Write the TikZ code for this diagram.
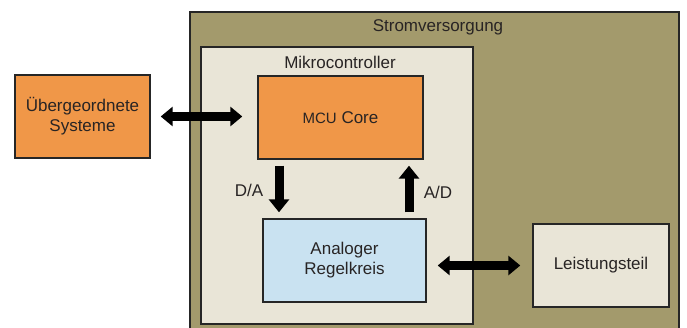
\documentclass[tikz,border=0pt]{standalone}
\usepackage{fontspec}
\setmainfont{Liberation Sans}
\usetikzlibrary{arrows.meta}
\definecolor{olive}{RGB}{163,154,108}
\definecolor{beige}{RGB}{233,229,215}
\definecolor{orng}{RGB}{240,151,72}
\definecolor{lblue}{RGB}{201,226,241}
\definecolor{txt}{RGB}{40,36,36}
\tikzset{
  box/.style={draw=black!85, line width=1.4pt, inner sep=0pt, align=center, text=txt,
    font=\fontsize{17}{20}\selectfont},
  lbl/.style={inner sep=0pt, text=txt, font=\fontsize{17}{20}\selectfont},
  big/.style={line width=9pt, black},
  dbl/.style={big, {Triangle[width=19pt,length=12pt]}-{Triangle[width=19pt,length=12pt]}},
  sgl/.style={big, -{Triangle[width=20pt,length=13pt]}}
}
\begin{document}
\begin{tikzpicture}[x=1pt,y=-1pt]
\useasboundingbox (0,0) rectangle (687,327);
\clip (0,0) rectangle (687,327);
\fill[white] (0,0) rectangle (687,327);
% outer power supply box
\node[box, fill=olive, line width=2.6pt, minimum width=489pt, minimum height=330pt] (strom) at (434.5,177) {};
\node[lbl] (stromlbl) at (438,27) {Stromversorgung};
% microcontroller box
\node[box, fill=beige, minimum width=272pt, minimum height=277pt] (mikro) at (337,185.5) {};
\node[lbl] (mikrolbl) at (340,62) {Mikrocontroller};
% blocks
\node[box, fill=orng, minimum width=135pt, minimum height=83pt] (ub) at (82.5,116.5) {Übergeordnete\\Systeme};
\node[box, fill=orng, minimum width=165pt, minimum height=83pt] (mcu) at (340.5,117.5) {{\fontsize{15}{20}\selectfont MCU} Core};
\node[box, fill=lblue, minimum width=163pt, minimum height=83pt] (ana) at (344.5,260.5) {Analoger\\Regelkreis};
\node[box, fill=beige, minimum width=136pt, minimum height=83pt] (lt) at (601,265.5) {Leistungsteil};
% connectors
\draw[dbl, shorten <=10pt, shorten >=15pt] (ub.east) -- (ub.east -| mcu.west);
\draw[sgl, shorten <=6pt, shorten >=6pt] ([xshift=-61.5pt]mcu.south) -- ([xshift=-61.5pt]mcu.south |- ana.north);
\draw[sgl, shorten <=6pt, shorten >=6pt] ([xshift=68.5pt]mcu.south |- ana.north) -- ([xshift=68.5pt]mcu.south);
\draw[dbl, shorten <=11pt, shorten >=12pt] (ana.east |- lt.west) -- (lt.west);
\node[lbl] (dalbl) at (249,190) {D/A};
\node[lbl] (adlbl) at (438,192) {A/D};
\end{tikzpicture}
\end{document}
